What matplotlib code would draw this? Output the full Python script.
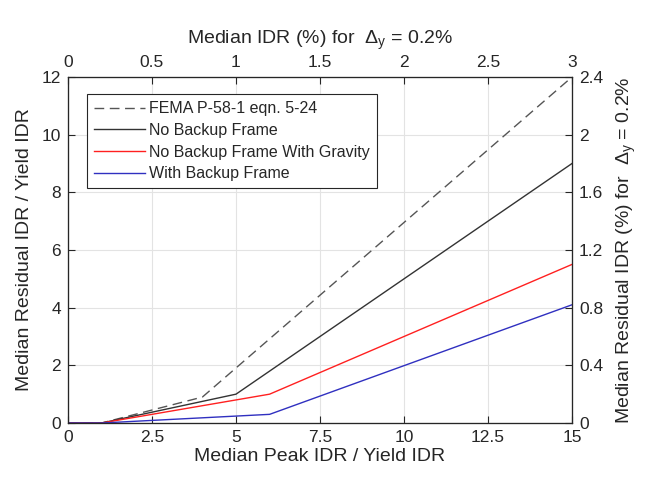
import matplotlib
matplotlib.use('Agg')
import matplotlib.pyplot as plt

plt.rcParams['font.family'] = ['Liberation Sans', 'DejaVu Sans']
plt.rcParams['mathtext.fontset'] = 'custom'
plt.rcParams['mathtext.rm'] = 'Liberation Sans'
plt.rcParams['mathtext.it'] = 'Liberation Sans'

# peak IDR / yield IDR (x) vs residual IDR / yield IDR (y)
fema_x = [0, 1, 4, 15]
fema_y = [0, 0, 0.9, 12]
nobackup_x = [0, 1, 5, 15]
nobackup_y = [0, 0, 1.0, 9.0]
gravity_x = [0, 1, 6, 15]
gravity_y = [0, 0, 1.0, 5.5]
backup_x = [0, 1, 6, 15]
backup_y = [0, 0, 0.3, 4.1]

labels = ['FEMA P-58-1 eqn. 5-24', 'No Backup Frame',
          'No Backup Frame With Gravity', 'With Backup Frame']
yield_idr = 0.2  # percent

txt = '#262626'
axc = '#262626'
tick_fs = 12.5
lab_fs = 14

fig = plt.figure(figsize=(6.54, 4.78), dpi=100)
ax = fig.add_axes([68/654, 55/478, 504/654, 346/478])

ax.plot(fema_x, fema_y, color='#555555', ls=(0, (7, 4)), lw=1.0, label=labels[0])
ax.plot(nobackup_x, nobackup_y, color='#333333', lw=1.0, label=labels[1])
ax.plot(gravity_x, gravity_y, color='#ff2020', lw=1.0, label=labels[2])
ax.plot(backup_x, backup_y, color='#3030c0', lw=1.0, label=labels[3])

ax.set_xlim(0, 15)
ax.set_ylim(0, 12)
ax.set_xticks([0, 2.5, 5, 7.5, 10, 12.5, 15])
ax.set_xticklabels(['0', '2.5', '5', '7.5', '10', '12.5', '15'])
ax.set_yticks([0, 2, 4, 6, 8, 10, 12])
ax.grid(True, color='#e3e3e3', lw=0.8)
ax.set_axisbelow(True)
ax.tick_params(direction='in', length=5, labelsize=tick_fs, colors=txt, pad=5)
for s in ax.spines.values():
    s.set_color(axc)
    s.set_linewidth(0.8)
ax.set_xlabel('Median Peak IDR / Yield IDR', fontsize=lab_fs, color=txt, labelpad=2)
ax.set_ylabel('Median Residual IDR / Yield IDR', fontsize=lab_fs, color=txt, labelpad=6)

leg = ax.legend(loc='upper left', bbox_to_anchor=(0.038, 0.951), fontsize=11.5,
                frameon=True, fancybox=False, edgecolor=axc, framealpha=1,
                handlelength=3.2, handletextpad=0.25, borderpad=0.45,
                labelspacing=0.42, borderaxespad=0)
leg.get_frame().set_linewidth(0.8)
for t in leg.get_texts():
    t.set_color(txt)

# top axis: peak IDR in percent
top = ax.twiny()
top.set_xlim(0, 15 * yield_idr)
top.set_xticks([0, 0.5, 1, 1.5, 2, 2.5, 3])
top.set_xticklabels(['0', '0.5', '1', '1.5', '2', '2.5', '3'])
top.tick_params(direction='in', length=5, labelsize=tick_fs, colors=txt, pad=5)
top.set_xlabel(r'Median IDR (%) for  $\Delta_{\mathrm{y}}$ = 0.2%', fontsize=lab_fs, color=txt, labelpad=8)

# right axis: residual IDR in percent
right = ax.twinx()
right.set_ylim(0, 12 * yield_idr)
right.set_yticks([0, 0.4, 0.8, 1.2, 1.6, 2, 2.4])
right.set_yticklabels(['0', '0.4', '0.8', '1.2', '1.6', '2', '2.4'])
right.tick_params(direction='in', length=5, labelsize=tick_fs, colors=txt, pad=5)
right.set_ylabel(r'Median Residual IDR (%) for  $\Delta_{\mathrm{y}}$ = 0.2%', fontsize=lab_fs, color=txt, labelpad=8)

for a in (top, right):
    for s in a.spines.values():
        s.set_color(axc)
        s.set_linewidth(0.8)

fig.savefig('out.png', dpi=100)
